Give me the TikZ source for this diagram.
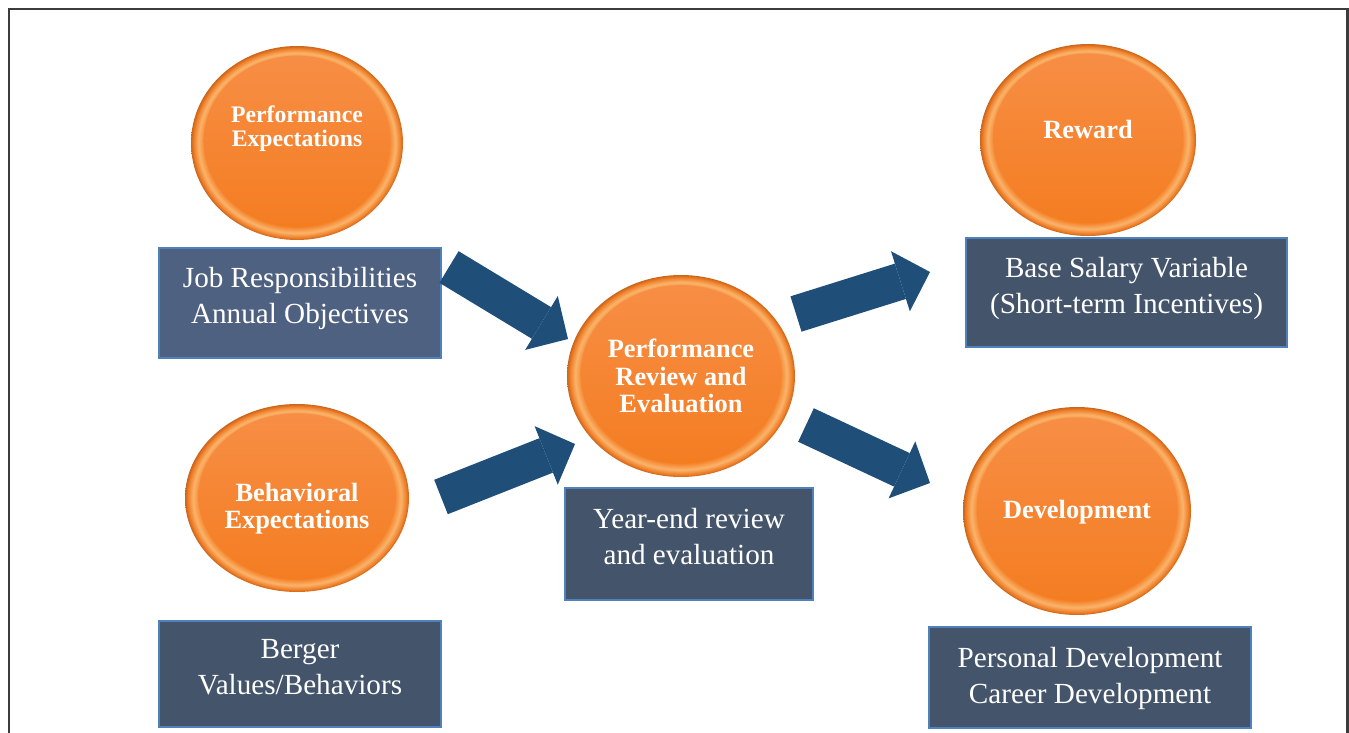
\documentclass[tikz,border=0pt]{standalone}
\usepackage{fontspec}
\setmainfont{Liberation Serif}
\usetikzlibrary{arrows.meta}
\definecolor{arrowblue}{HTML}{1F4E79}
\definecolor{boxfill}{HTML}{44546A}
\definecolor{boxfilltop}{HTML}{4F6180}
\definecolor{boxline}{HTML}{4F81BD}
\definecolor{framegray}{HTML}{3C3C3C}
\definecolor{ballface}{HTML}{F47D22}
\definecolor{ballfacetop}{HTML}{F78E45}
\definecolor{ballring}{HTML}{FAB46C}
\definecolor{ballrim}{HTML}{EF7D26}
\definecolor{balledge}{HTML}{C8651C}
\pgfdeclareradialshading{ballshade}{\pgfpoint{0bp}{0bp}}{color(0bp)=(ballface); color(21.5bp)=(ballface); color(23.2bp)=(ballring); color(24.4bp)=(ballrim); color(25bp)=(balledge); color(50bp)=(balledge)}
\tikzset{
  balltext/.style={text=white, font=\bfseries\fontsize{15}{15.5}\selectfont, align=center},
  infobox/.style={draw=boxline, line width=1pt, fill=boxfill, text=white, font=\fontsize{16.6}{20.4}\selectfont, align=center, inner sep=0pt, text depth=8.5pt},
  bigarrow/.style={arrowblue, line width=0.74cm, -{Triangle[length=0.62cm, width=1.26cm, line width=0pt]}}
}
\begin{document}
\begin{tikzpicture}[x=0.02cm, y=-0.02cm]
\useasboundingbox (0,0) rectangle (1349,733);
\draw [framegray, line width=1.2pt] (9,733) -- (9,9) -- (1347.5,9) -- (1347.5,733);

\foreach \cx/\cy/\rx/\ry in {297/143/106/97, 1088/140/108/96, 681/376/114/101, 297/498/112/94, 1077/511/114/104}{
  \shade [shading=ballshade] (\cx,\cy) ellipse [x radius=\rx, y radius=\ry];
  \shade [top color=ballfacetop, bottom color=ballface] (\cx,\cy-2) ellipse [x radius=0.88*\rx, y radius=0.88*\ry];
}

\node [balltext, font=\bfseries\fontsize{13.5}{13.8}\selectfont] (pe) at (297,129) {Performance\\Expectations};
\node [balltext] (rw) at (1088,129) {Reward};
\node [balltext] (rv) at (681,376) {Performance\\Review and\\Evaluation};
\node [balltext] (be) at (297,509) {Behavioral\\Expectations};
\node [balltext] (dv) at (1077,512) {Development};

\node [infobox, fill=boxfilltop, minimum width=5.64cm, minimum height=2.2cm] (jobbox) at (300,303) {Job Responsibilities\\Annual Objectives};
\node [infobox, minimum width=5.64cm, minimum height=2.12cm] (bergerbox) at (300,674) {Berger\\Values/Behaviors};
\node [infobox, minimum width=4.96cm, minimum height=2.24cm] (yearbox) at (689,544) {Year-end review\\and evaluation};
\node [infobox, minimum width=6.42cm, minimum height=2.18cm] (salarybox) at (1126.5,292.5) {Base Salary Variable\\(Short-term Incentives)};
\node [infobox, minimum width=6.44cm, minimum height=2.02cm, text depth=2pt] (devbox) at (1090,677.5) {Personal Development\\Career Development};

\coordinate (a1s) at (449,267); \coordinate (a1e) at (568,339);
\coordinate (a2s) at (441,497); \coordinate (a2e) at (575,444);
\coordinate (a3s) at (796,314); \coordinate (a3e) at (930,272);
\coordinate (a4s) at (806,425); \coordinate (a4e) at (930,483);
\draw [bigarrow] (a1s) -- (a1e);
\draw [bigarrow] (a2s) -- (a2e);
\draw [bigarrow] (a3s) -- (a3e);
\draw [bigarrow] (a4s) -- (a4e);
\end{tikzpicture}
\end{document}
